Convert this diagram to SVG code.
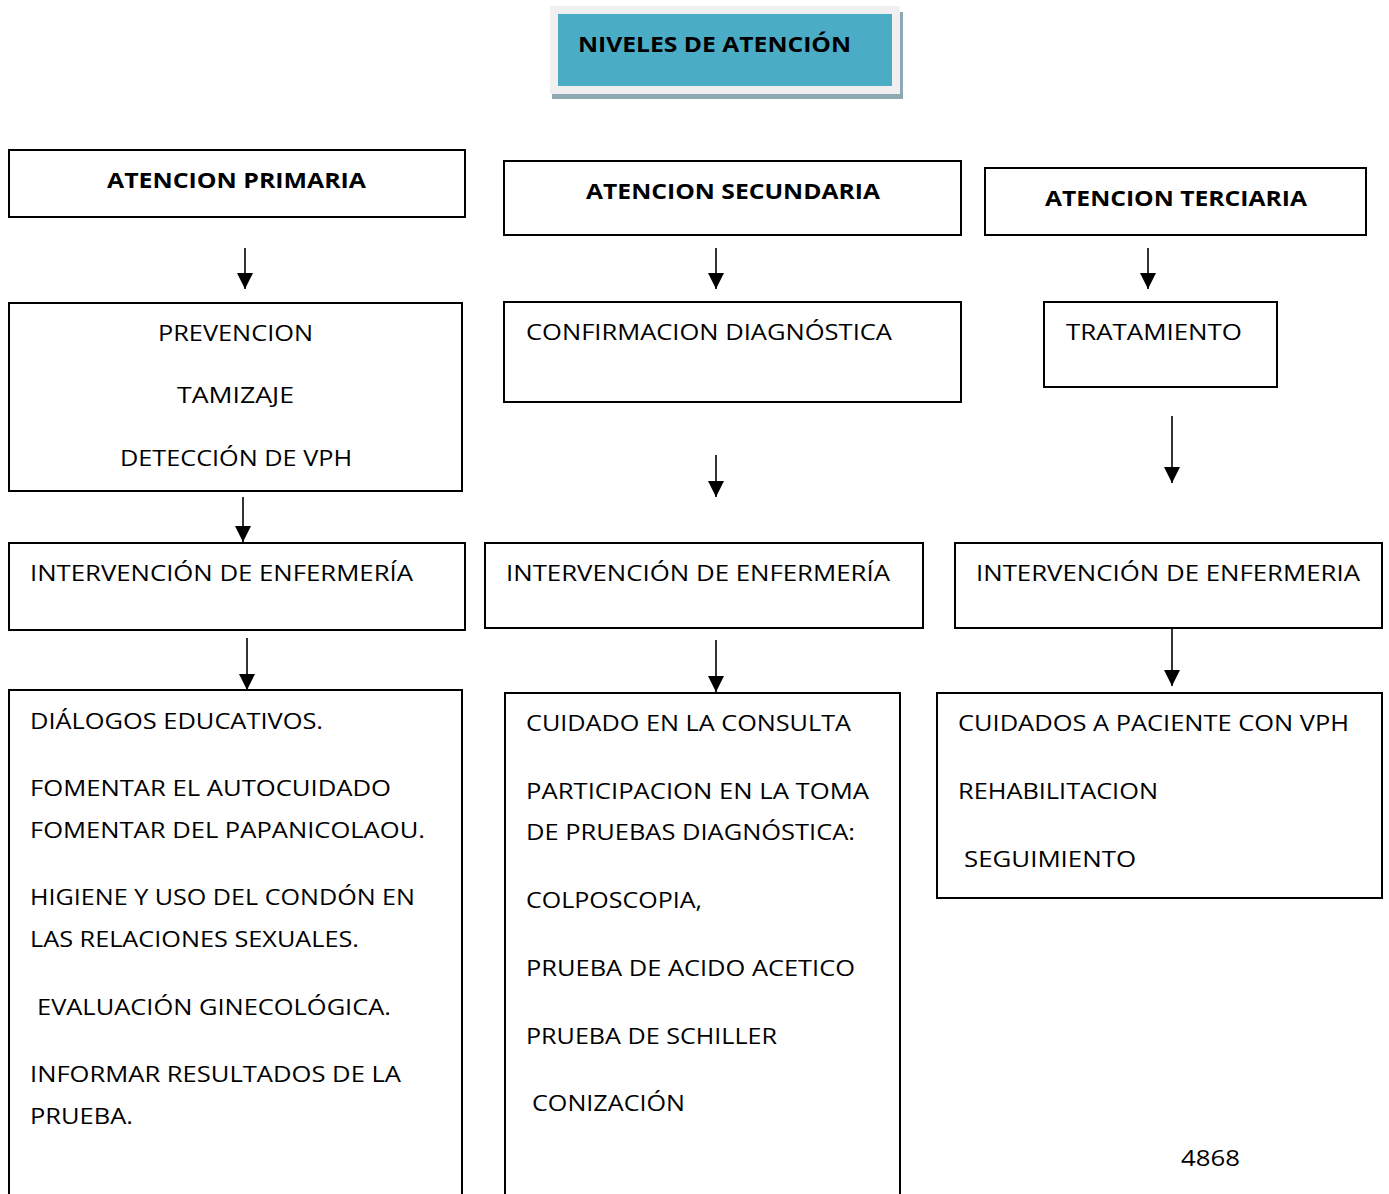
<svg xmlns="http://www.w3.org/2000/svg" width="1389" height="1194" viewBox="0 0 1389 1194">
<style>
.box{fill:#fff;stroke:#000;stroke-width:2}
.t{font-family:"Open Sans","Liberation Sans",sans-serif;font-size:22px;fill:#000}
.b{font-weight:bold}
.c{text-anchor:middle}
.conn{stroke:#000;stroke-width:1.6;fill:none;marker-end:url(#ah)}
</style>
<defs>
<marker id="ah" markerUnits="userSpaceOnUse" markerWidth="16" markerHeight="16" refX="14" refY="7" orient="auto" viewBox="0 0 14 14">
<path d="M0,0 L14,7 L0,14 Z" fill="#000"/>
</marker>
</defs>
<rect width="1389" height="1194" fill="#fff"/>

<g id="title">
<rect x="552" y="12" width="351" height="87" fill="#8fa9b3"/>
<rect x="550" y="6" width="350" height="88" fill="#f0f0f0"/>
<rect x="558" y="14" width="334" height="72" fill="#4bacc6"/>
<text class="t b" x="578" y="52" textLength="273" lengthAdjust="spacingAndGlyphs">NIVELES DE ATENCIÓN</text>
</g>

<g id="primaria">
<rect class="box" x="9" y="150" width="456" height="67"/>
<text class="t b" x="107" y="188" textLength="259" lengthAdjust="spacingAndGlyphs">ATENCION PRIMARIA</text>
</g>
<g id="secundaria">
<rect class="box" x="504" y="161" width="457" height="74"/>
<text class="t b" x="586" y="199" textLength="294" lengthAdjust="spacingAndGlyphs">ATENCION SECUNDARIA</text>
</g>
<g id="terciaria">
<rect class="box" x="985" y="168" width="381" height="67"/>
<text class="t b" x="1045" y="206" textLength="262" lengthAdjust="spacingAndGlyphs">ATENCION TERCIARIA</text>
</g>

<g id="prevencion">
<rect class="box" x="9" y="303" width="453" height="188"/>
<text class="t" x="158" y="341" textLength="155" lengthAdjust="spacingAndGlyphs">PREVENCION</text>
<text class="t" x="177" y="403" textLength="117" lengthAdjust="spacingAndGlyphs">TAMIZAJE</text>
<text class="t" x="120" y="466" textLength="232" lengthAdjust="spacingAndGlyphs">DETECCIÓN DE VPH</text>
</g>
<g id="confirmacion">
<rect class="box" x="504" y="302" width="457" height="100"/>
<text class="t" x="526" y="340" textLength="366" lengthAdjust="spacingAndGlyphs">CONFIRMACION DIAGNÓSTICA</text>
</g>
<g id="tratamiento">
<rect class="box" x="1044" y="302" width="233" height="85"/>
<text class="t" x="1066" y="340" textLength="176" lengthAdjust="spacingAndGlyphs">TRATAMIENTO</text>
</g>

<g id="intervencion1">
<rect class="box" x="9" y="543" width="456" height="87"/>
<text class="t" x="30" y="581" textLength="383" lengthAdjust="spacingAndGlyphs">INTERVENCIÓN DE ENFERMERÍA</text>
</g>
<g id="intervencion2">
<rect class="box" x="485" y="543" width="438" height="85"/>
<text class="t" x="506" y="581" textLength="384" lengthAdjust="spacingAndGlyphs">INTERVENCIÓN DE ENFERMERÍA</text>
</g>
<g id="intervencion3">
<rect class="box" x="955" y="543" width="427" height="85"/>
<text class="t" x="976" y="581" textLength="384" lengthAdjust="spacingAndGlyphs">INTERVENCIÓN DE ENFERMERIA</text>
</g>

<g id="acciones1">
<rect class="box" x="9" y="690" width="453" height="520"/>
<text class="t" x="30" y="729" textLength="293" lengthAdjust="spacingAndGlyphs">DIÁLOGOS EDUCATIVOS.</text>
<text class="t" x="30" y="796" textLength="361" lengthAdjust="spacingAndGlyphs">FOMENTAR EL AUTOCUIDADO</text>
<text class="t" x="30" y="838" textLength="395" lengthAdjust="spacingAndGlyphs">FOMENTAR DEL PAPANICOLAOU.</text>
<text class="t" x="30" y="905" textLength="385" lengthAdjust="spacingAndGlyphs">HIGIENE Y USO DEL CONDÓN EN</text>
<text class="t" x="30" y="947" textLength="329" lengthAdjust="spacingAndGlyphs">LAS RELACIONES SEXUALES.</text>
<text class="t" x="37" y="1015" textLength="354" lengthAdjust="spacingAndGlyphs">EVALUACIÓN GINECOLÓGICA.</text>
<text class="t" x="30" y="1082" textLength="371" lengthAdjust="spacingAndGlyphs">INFORMAR RESULTADOS DE LA</text>
<text class="t" x="30" y="1124" textLength="103" lengthAdjust="spacingAndGlyphs">PRUEBA.</text>
</g>
<g id="acciones2">
<rect class="box" x="505" y="693" width="395" height="520"/>
<text class="t" x="526" y="731" textLength="325" lengthAdjust="spacingAndGlyphs">CUIDADO EN LA CONSULTA</text>
<text class="t" x="526" y="799" textLength="343" lengthAdjust="spacingAndGlyphs">PARTICIPACION EN LA TOMA</text>
<text class="t" x="526" y="840" textLength="329" lengthAdjust="spacingAndGlyphs">DE PRUEBAS DIAGNÓSTICA:</text>
<text class="t" x="526" y="908" textLength="176" lengthAdjust="spacingAndGlyphs">COLPOSCOPIA,</text>
<text class="t" x="526" y="976" textLength="329" lengthAdjust="spacingAndGlyphs">PRUEBA DE ACIDO ACETICO</text>
<text class="t" x="526" y="1044" textLength="251" lengthAdjust="spacingAndGlyphs">PRUEBA DE SCHILLER</text>
<text class="t" x="532" y="1111" textLength="153" lengthAdjust="spacingAndGlyphs">CONIZACIÓN</text>
</g>
<g id="acciones3">
<rect class="box" x="937" y="693" width="445" height="205"/>
<text class="t" x="958" y="731" textLength="391" lengthAdjust="spacingAndGlyphs">CUIDADOS A PACIENTE CON VPH</text>
<text class="t" x="958" y="799" textLength="200" lengthAdjust="spacingAndGlyphs">REHABILITACION</text>
<text class="t" x="964" y="867" textLength="172" lengthAdjust="spacingAndGlyphs">SEGUIMIENTO</text>
</g>

<text class="t" x="1181" y="1166" textLength="59" lengthAdjust="spacingAndGlyphs">4868</text>

<g id="connectors">
<line class="conn" x1="245" y1="248" x2="245" y2="289"/>
<line class="conn" x1="716" y1="248" x2="716" y2="289"/>
<line class="conn" x1="1148" y1="248" x2="1148" y2="289"/>
<line class="conn" x1="243" y1="497" x2="243" y2="542"/>
<line class="conn" x1="716" y1="455" x2="716" y2="497"/>
<line class="conn" x1="1172" y1="416" x2="1172" y2="483"/>
<line class="conn" x1="247" y1="638" x2="247" y2="690"/>
<line class="conn" x1="716" y1="640" x2="716" y2="692"/>
<line class="conn" x1="1172" y1="629" x2="1172" y2="686"/>
</g>
</svg>
